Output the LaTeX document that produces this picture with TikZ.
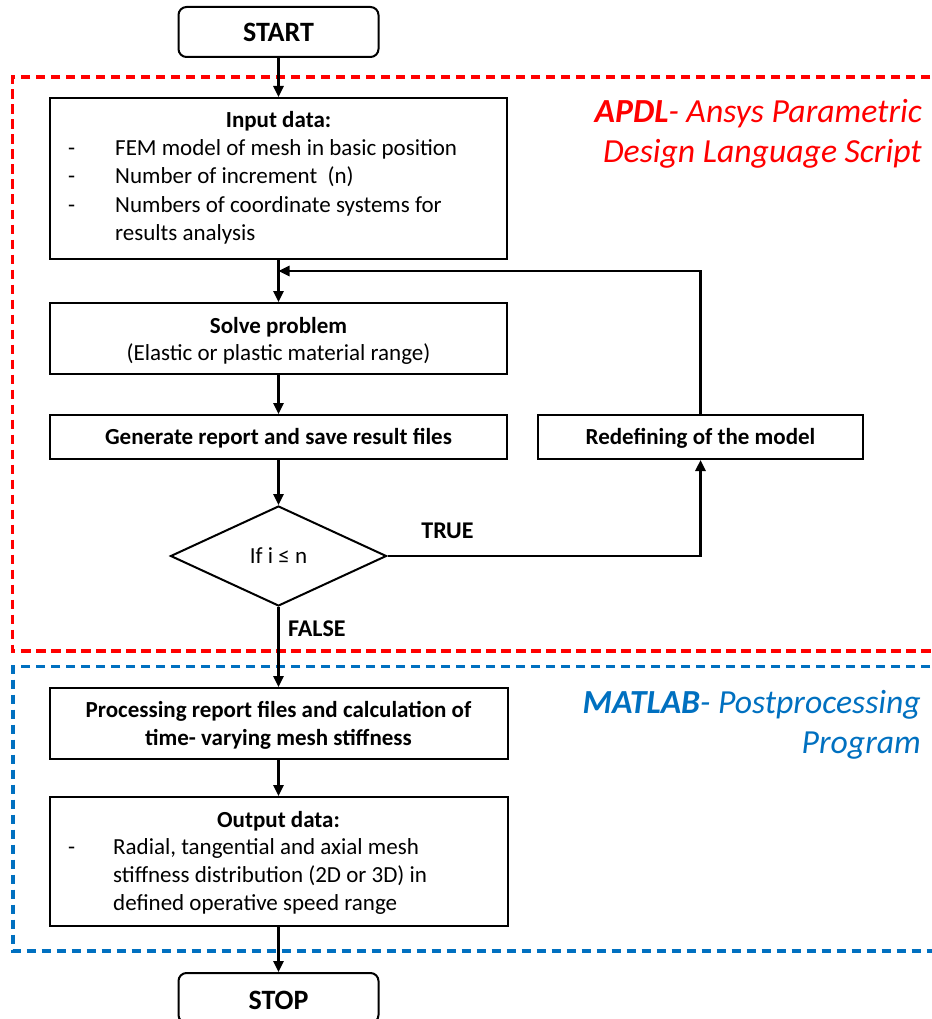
\documentclass[tikz,border=0pt]{standalone}
\usepackage{fontspec}
\setmainfont{Carlito}
\usetikzlibrary{arrows.meta,shapes.geometric}
\definecolor{apdlred}{RGB}{255,0,0}
\definecolor{matblue}{RGB}{0,112,192}
\tikzset{
  boxnode/.style={draw=black, line width=2pt, rectangle, inner sep=0pt},
  termnode/.style={boxnode, rounded corners=8pt},
  decnode/.style={draw=black, line width=2pt, diamond, inner sep=0pt, minimum width=216pt, minimum height=100pt, font=\fontsize{23}{28}\selectfont},
  txt/.style={inner sep=0pt, font=\fontsize{23}{28}\selectfont},
  btxt/.style={inner sep=0pt, font=\fontsize{23}{28}\selectfont\bfseries},
  termtxt/.style={inner sep=0pt, font=\fontsize{28}{33}\selectfont\bfseries},
  lbl/.style={inner sep=0pt, font=\fontsize{24}{28}\selectfont\bfseries},
  side/.style={inner sep=0pt, font=\fontsize{33.7}{40}\selectfont\itshape, anchor=base east},
  arr/.style={line width=2.5pt, -{Triangle[width=10pt,length=11pt]}},
  regionred/.style={draw=apdlred, line width=3.5pt, dash pattern=on 9.5pt off 5.5pt},
  regionblue/.style={draw=matblue, line width=3.5pt, dash pattern=on 9.5pt off 5.5pt},
}
\begin{document}
\begin{tikzpicture}[x=1pt,y=-1pt]
\useasboundingbox (0,0) rectangle (931,1019);

% regions
\draw[regionred] (945,77) -- (12.5,77) -- (12.5,651) -- (945,651);
\draw[regionblue] (945,666.5) -- (13,666.5) -- (13,951) -- (945,951);

% side labels
\node[side, text=apdlred] (apdl1) at (922,123) {{\bfseries APDL}- Ansys Parametric};
\node[side, text=apdlred] (apdl2) at (922,163) {Design Language Script};
\node[side, text=matblue] (mat1) at (921,713) {{\bfseries MATLAB}- Postprocessing};
\node[side, text=matblue] (mat2) at (921,753) {Program};

% boxes
\node[termnode, minimum width=200pt, minimum height=50pt] (start) at (278.5,32) {};
\node[termtxt, anchor=base] (starttxt) at (278.5,42) {START};

\node[boxnode, minimum width=457pt, minimum height=161pt] (input) at (278.5,178.5) {};
\node[btxt, anchor=base] (inputtitle) at (278.5,128) {Input data:};
\node[txt, anchor=base west] (id1) at (68,156) {-};
\node[txt, anchor=base west] (it1) at (115,156) {FEM model of mesh in basic position};
\node[txt, anchor=base west] (id2) at (68,184) {-};
\node[txt, anchor=base west] (it2) at (115,184) {Number of increment~~(n)};
\node[txt, anchor=base west] (id3) at (68,212) {-};
\node[txt, anchor=base west] (it3) at (115,212) {Numbers of coordinate systems for};
\node[txt, anchor=base west] (it4) at (115,240) {results analysis};

\node[boxnode, minimum width=457pt, minimum height=71pt] (solve) at (278.5,338.5) {};
\node[btxt, anchor=base] (solvet1) at (278.5,333) {Solve problem};
\node[txt, anchor=base] (solvet2) at (278.5,360) {(Elastic or plastic material range)};

\node[boxnode, minimum width=457pt, minimum height=44pt] (gen) at (278.5,437) {};
\node[btxt, anchor=base] (gent) at (278.5,444) {Generate report and save result files};

\node[boxnode, minimum width=325pt, minimum height=44pt] (redef) at (700.5,437) {};
\node[btxt, anchor=base] (redeft) at (700.5,444) {Redefining of the model};

\node[decnode] (dia) at (278.5,556) {};
\node[txt, anchor=base] (diat) at (278.5,563) {If i ≤ n};

\node[boxnode, minimum width=458pt, minimum height=71pt] (proc) at (278.5,723.5) {};
\node[btxt, anchor=base] (proct1) at (278.5,717) {Processing report files and calculation of};
\node[btxt, anchor=base] (proct2) at (278.5,745) {time- varying mesh stiffness};

\node[boxnode, minimum width=458pt, minimum height=129pt] (out) at (278.5,861.5) {};
\node[btxt, anchor=base] (outtitle) at (278.5,827) {Output data:};
\node[txt, anchor=base west] (od1) at (68,854) {-};
\node[txt, anchor=base west] (ot1) at (113,854) {Radial, tangential and axial mesh};
\node[txt, anchor=base west] (ot2) at (113,882) {stiffness distribution (2D or 3D) in};
\node[txt, anchor=base west] (ot3) at (113,910) {defined operative speed range};

\node[termnode, minimum width=200pt, minimum height=50pt] (stop) at (278.5,998) {};
\node[termtxt, anchor=base] (stoptxt) at (278.5,1009) {STOP};

% connectors
\coordinate (loopend) at (278.5,271);
\draw[arr] (start.south) -- (input.north);
\draw[arr] (input.south) -- (solve.north);
\draw[arr] (redef.north) |- (loopend);
\draw[arr] (solve.south) -- (gen.north);
\draw[arr] (gen.south) -- (dia.north);
\draw[arr] (dia.east) -| (redef.south);
\draw[arr] (dia.south) -- (proc.north);
\draw[arr] (proc.south) -- (out.north);
\draw[arr] (out.south) -- (stop.north);

% connector labels
\node[lbl, anchor=base] (truelbl) at (447.5,538) {TRUE};
\node[lbl, anchor=base west] (falselbl) at (288,636) {FALSE};
\end{tikzpicture}
\end{document}
